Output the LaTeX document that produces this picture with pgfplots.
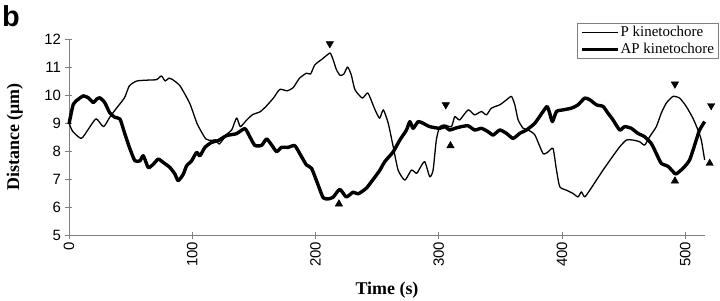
\documentclass[border=0pt]{standalone}
\usepackage{pgfplots}
\pgfplotsset{compat=1.18}
\usepackage{fontspec}
\setmainfont{Liberation Serif}
\newfontfamily\arialf{Liberation Sans}

\begin{document}
\begin{tikzpicture}
\path[use as bounding box] (-69bp,-66bp) rectangle (651bp,235bp);
\node[anchor=north west, inner sep=0pt, font=\arialf\bfseries\fontsize{29}{29}\selectfont] at (-67bp,230bp) {b};
\begin{axis}[
  at={(0,0)}, anchor=south west,
  scale only axis, width=636bp, height=196bp,
  xmin=0, xmax=516, ymin=5, ymax=12,
  axis x line*=bottom, axis y line*=left,
  axis line style={draw=black!50, line width=0.8pt},
  xtick={0,100,...,500}, ytick={5,6,...,12},
  tick align=center, major tick length=7bp,
  tick style={draw=black!50, line width=0.8pt},
  /pgf/number format/assume math mode=true,
  ticklabel style={font=\arialf\fontsize{15}{15}\selectfont},
  yticklabel style={xshift=-1bp},
  xticklabel style={rotate=90, anchor=east},
  clip=false,
  xlabel={Time (s)}, ylabel={Distance (μm)},
  xlabel style={at={(axis description cs:0.5,-0.28)}, anchor=center, font=\bfseries\fontsize{18}{18}\selectfont},
  ylabel style={at={(axis description cs:-0.085,0.5)}, anchor=center, font=\bfseries\fontsize{18}{18}\selectfont},
  legend style={at={(axis description cs:1.0209,1.0832)}, anchor=north east, draw=black!50, line width=0.6pt,
    font=\fontsize{15}{16}\selectfont, inner xsep=3bp, inner ysep=2bp, row sep=2bp,
    nodes={inner xsep=1bp, inner ysep=1.5bp}},
  legend cell align=left,
  legend image code/.code={\draw[#1] (0bp,0bp) -- (36bp,0bp);},
]
\addplot[black, line width=1.3pt, line join=round, smooth, tension=0.35] coordinates {
(0,9.00) (3,8.7) (10,8.45) (16,8.8) (22,9.15) (28,8.87) (33,9.2) (38,9.5) (45,9.9) (49,10.33)
(55,10.5) (63,10.53) (71,10.55) (75,10.68) (78,10.5) (81,10.6) (84,10.55) (90,10.33) (98,9.7)
(104,8.97) (111,8.43) (116,8.38) (119,8.4) (122,8.25) (128,8.6) (132,8.75) (136,9.18) (139,8.87)
(144,9.1) (149,9.3) (155,9.4) (160,9.6) (166,9.9) (171,10.2) (177,10.15) (182,10.27) (187,10.6)
(192.7,10.78) (196,10.75) (199.5,11.08) (205,11.27) (210,11.45) (212,11.5) (214,11.3) (217,10.9)
(220,10.7) (223,10.75) (226,11.0) (229,10.72) (232,10.19) (238,9.89) (242.5,10.07) (248,9.5)
(252,9.17) (255,9.47) (259,8.99) (263,8.16) (267,7.32) (272.5,6.96) (277.8,7.32) (282,7.2)
(284.6,7.38) (288.6,7.62) (292.7,7.08) (295.4,7.32) (298,8.39) (300.8,8.87) (304.8,8.93)
(310.3,8.87) (313,9.23) (317,9.11) (323.8,9.47) (329,9.29) (334.6,9.41) (338.7,9.29) (342.7,9.53)
(349.5,9.65) (355,9.83) (359,9.95) (361.7,9.65) (364.4,9.11) (368.5,8.81) (372.5,8.75) (378,8.57)
(384.6,7.91) (388.7,7.97) (392.7,8.09) (395.5,7.32) (398.2,6.72) (403.6,6.6) (409,6.48) (413,6.36)
(415.7,6.54) (418.4,6.36) (422.5,6.6) (427.9,6.96) (433.3,7.32) (440,7.74) (446.8,8.15)
(452.2,8.39) (457.6,8.39) (463,8.33) (467,8.21) (471.1,8.51) (476.5,8.87) (480.5,9.35)
(484.6,9.71) (490,9.95) (495.4,9.89) (500.8,9.59) (506.2,9.17) (510.3,8.75) (513,8.39) (515.7,7.68)
};
\addlegendentry{P kinetochore}
\addplot[black, line width=3.4pt, line join=round, smooth, tension=0.35] coordinates {
(0,8.96) (3.5,9.67) (7.6,9.85) (11.6,9.97) (15.7,9.9) (19.7,9.73) (22.4,9.85) (25,9.9) (29,9.73)
(33,9.37) (37.3,9.2) (41.4,9.14) (45.4,8.6) (49.5,8.07) (53.5,7.65) (57.6,7.65) (60.3,7.83)
(64.3,7.41) (68.4,7.53) (72.4,7.71) (76.5,7.59) (81.9,7.41) (86,7.17) (88.6,6.94) (92.7,7.17)
(95.4,7.47) (99.5,7.65) (103.5,7.95) (106.2,7.83) (110.3,8.13) (115.7,8.31) (121,8.37)
(127.8,8.55) (135.9,8.62) (142.7,8.8) (146.8,8.5) (150.8,8.2) (156.2,8.2) (160.3,8.43)
(164.3,8.22) (168.4,7.98) (172.4,8.13) (177.8,8.13) (183.2,8.19) (188.6,7.8) (192.7,7.5)
(196.8,7.38) (202,6.8) (206.2,6.33) (210.3,6.29) (214.3,6.35) (219.7,6.63) (225,6.36) (230.5,6.53)
(234.6,6.47) (241.2,6.67) (246.5,6.97) (252,7.3) (256.2,7.62) (263,7.97) (268.4,8.39) (273.8,8.75)
(276.5,9.05) (279.2,8.81) (283.3,9.05) (287.3,8.99) (292.7,8.87) (300.8,8.81) (304.8,8.87)
(308.9,8.75) (313,8.81) (318.4,8.87) (323.8,8.9) (329.2,8.75) (334.6,8.81) (340,8.69) (344.1,8.57)
(349.5,8.75) (354.9,8.63) (360.3,8.45) (365.7,8.63) (371.1,8.75) (377.9,8.99) (384.6,9.41)
(387.9,9.59) (390,9.35) (392.2,9.05) (395.5,9.41) (400.9,9.47) (407.6,9.53) (413,9.65) (418.4,9.89)
(422.5,9.83) (427.9,9.65) (433.3,9.59) (437.3,9.35) (441.4,9.11) (446.8,8.75) (450.8,8.87)
(456.2,8.81) (461.6,8.63) (467,8.51) (472.4,8.27) (476.5,7.91) (480.5,7.56) (486,7.45) (491.4,7.2)
(492.7,7.18) (498.1,7.38) (503.5,7.68) (508.9,8.39) (511.6,8.75) (515.7,9.05)
};
\addlegendentry{AP kinetochore}
\addplot[only marks, mark=triangle*, mark size=4.3pt, mark options={black, rotate=180}, forget plot]
  coordinates {(211.6,11.83) (305.7,9.65) (491.6,10.39) (521,9.62)};
\addplot[only marks, mark=triangle*, mark size=4.3pt, mark options={black}, forget plot]
  coordinates {(219,6.11) (309.5,8.19) (491.6,6.93) (519.8,7.56)};
\end{axis}
\end{tikzpicture}
\end{document}
